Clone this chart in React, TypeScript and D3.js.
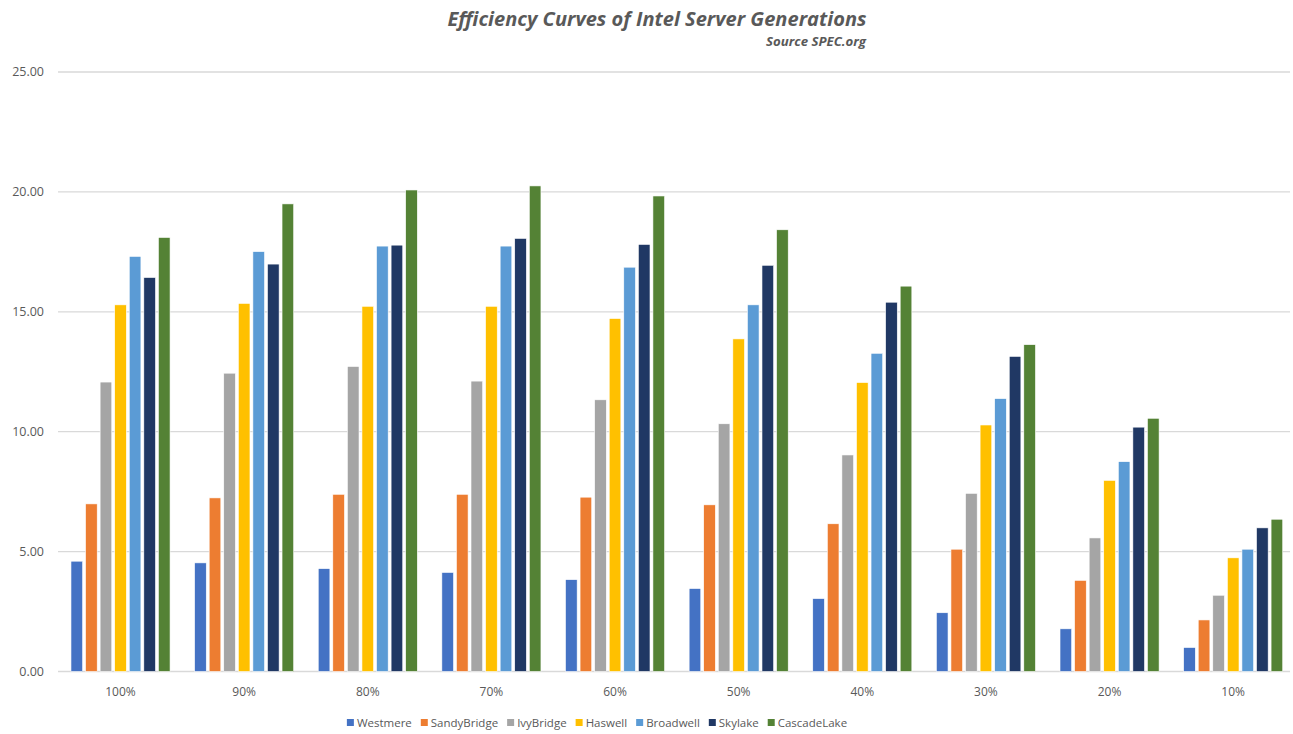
import React, { useEffect, useRef } from 'react';
import * as d3 from 'd3';

const categories = ['100%', '90%', '80%', '70%', '60%', '50%', '40%', '30%', '20%', '10%'];
const seriesNames = ['Westmere', 'SandyBridge', 'IvyBridge', 'Haswell', 'Broadwell', 'Skylake', 'CascadeLake'];
const seriesColors = ['#4472C4', '#ED7D31', '#A5A5A5', '#FFC000', '#5B9BD5', '#203864', '#548235'];

const westmere = [4.6, 4.53, 4.29, 4.13, 3.83, 3.46, 3.04, 2.45, 1.78, 1.0];
const sandyBridge = [6.99, 7.24, 7.39, 7.39, 7.27, 6.95, 6.16, 5.1, 3.8, 2.15];
const ivyBridge = [12.07, 12.44, 12.72, 12.11, 11.33, 10.33, 9.03, 7.43, 5.57, 3.18];
const haswell = [15.29, 15.35, 15.23, 15.23, 14.72, 13.87, 12.05, 10.28, 7.97, 4.74];
const broadwell = [17.31, 17.51, 17.74, 17.74, 16.86, 15.29, 13.27, 11.38, 8.75, 5.1];
const skylake = [16.43, 16.99, 17.78, 18.06, 17.81, 16.94, 15.4, 13.14, 10.19, 5.99];
const cascadeLake = [18.1, 19.5, 20.08, 20.25, 19.83, 18.42, 16.07, 13.63, 10.56, 6.35];

const seriesValues = [westmere, sandyBridge, ivyBridge, haswell, broadwell, skylake, cascadeLake];
const yTicks = [0, 5, 10, 15, 20, 25];

const width = 1293;
const height = 734;
const textColor = '#595959';
const font = '"Open Sans", sans-serif';

const Chart = () => {
  const svgRef = useRef<SVGSVGElement>(null);

  useEffect(() => {
    const svg = d3.select(svgRef.current);
    svg.selectAll('*').remove();

    const x0 = d3.scaleBand().domain(categories).range([58.7, 1295]);
    const groupSpan = 102;
    const x1 = d3.scaleBand()
      .domain(seriesNames)
      .range([(x0.bandwidth() - groupSpan) / 2, (x0.bandwidth() + groupSpan) / 2])
      .paddingInner(0.2)
      .paddingOuter(0.1);
    const y = d3.scaleLinear().domain([0, 25]).range([671.5, 72]);

    // gridlines
    svg.append('g')
      .selectAll('line')
      .data(yTicks)
      .enter()
      .append('line')
      .attr('x1', 58)
      .attr('x2', 1290)
      .attr('y1', d => y(d))
      .attr('y2', d => y(d))
      .attr('stroke', '#d9d9d9')
      .attr('stroke-width', 1.3);

    // y labels
    svg.append('g')
      .selectAll('text')
      .data(yTicks)
      .enter()
      .append('text')
      .text(d => d.toFixed(2))
      .attr('x', 44)
      .attr('y', d => y(d))
      .attr('dy', '0.35em')
      .attr('text-anchor', 'end')
      .style('font-family', font)
      .style('font-size', '12.5px')
      .attr('fill', textColor);

    // bars
    const groups = svg.append('g')
      .selectAll('g')
      .data(categories)
      .enter()
      .append('g')
      .attr('transform', d => `translate(${x0(d)},0)`);

    groups.selectAll('rect')
      .data((d, i) => seriesNames.map((s, j) => ({ s, v: seriesValues[j][i], c: seriesColors[j] })))
      .enter()
      .append('rect')
      .attr('x', d => x1(d.s)!)
      .attr('width', x1.bandwidth())
      .attr('y', d => y(d.v))
      .attr('height', d => y(0) - y(d.v))
      .attr('fill', d => d.c)
      .attr('stroke', '#ffffff')
      .attr('stroke-width', 0.6);

    // x labels
    svg.append('g')
      .selectAll('text')
      .data(categories)
      .enter()
      .append('text')
      .text(d => d)
      .attr('x', d => x0(d)! + x0.bandwidth() / 2)
      .attr('y', 696)
      .attr('text-anchor', 'middle')
      .style('font-family', font)
      .style('font-size', '12px')
      .attr('fill', textColor);

    // title
    svg.append('text')
      .text('Efficiency Curves of Intel Server Generations')
      .attr('x', 657)
      .attr('y', 26)
      .attr('text-anchor', 'middle')
      .attr('textLength', 419)
      .attr('lengthAdjust', 'spacingAndGlyphs')
      .style('font-family', font)
      .style('font-size', '19px')
      .style('font-weight', 'bold')
      .style('font-style', 'italic')
      .attr('fill', textColor);

    svg.append('text')
      .text('Source SPEC.org')
      .attr('x', 866)
      .attr('y', 46)
      .attr('text-anchor', 'end')
      .attr('textLength', 100)
      .attr('lengthAdjust', 'spacingAndGlyphs')
      .style('font-family', font)
      .style('font-size', '12px')
      .style('font-weight', 'bold')
      .style('font-style', 'italic')
      .attr('fill', textColor);

    // legend
    const legend = svg.append('g');
    const items = legend.selectAll('g')
      .data(seriesNames)
      .enter()
      .append('g');
    items.append('rect')
      .attr('width', 7)
      .attr('height', 7)
      .attr('y', -4)
      .attr('fill', (d, i) => seriesColors[i]);
    items.append('text')
      .text(d => d)
      .attr('x', 10)
      .attr('dy', '0.35em')
      .style('font-family', font)
      .style('font-size', '11.5px')
      .attr('fill', textColor);

    const widths: number[] = [];
    items.select('text').each(function () {
      widths.push((this as SVGTextElement).getComputedTextLength());
    });
    const gap = 9;
    const itemWidths = widths.map(w => 10 + w);
    const total = d3.sum(itemWidths) + gap * (itemWidths.length - 1);
    let cx = 597 - total / 2;
    const offsets = itemWidths.map(w => {
      const o = cx;
      cx += w + gap;
      return o;
    });
    items.attr('transform', (d, i) => `translate(${offsets[i]},723)`);
  }, []);

  return <svg ref={svgRef} width={width} height={height} style={{ display: 'block' }}></svg>;
};

export default function App() {
  return (
    <div style={{ position: 'fixed', left: 0, top: 0, width, height, overflow: 'hidden', background: '#fff' }}>
      <Chart />
    </div>
  );
}
